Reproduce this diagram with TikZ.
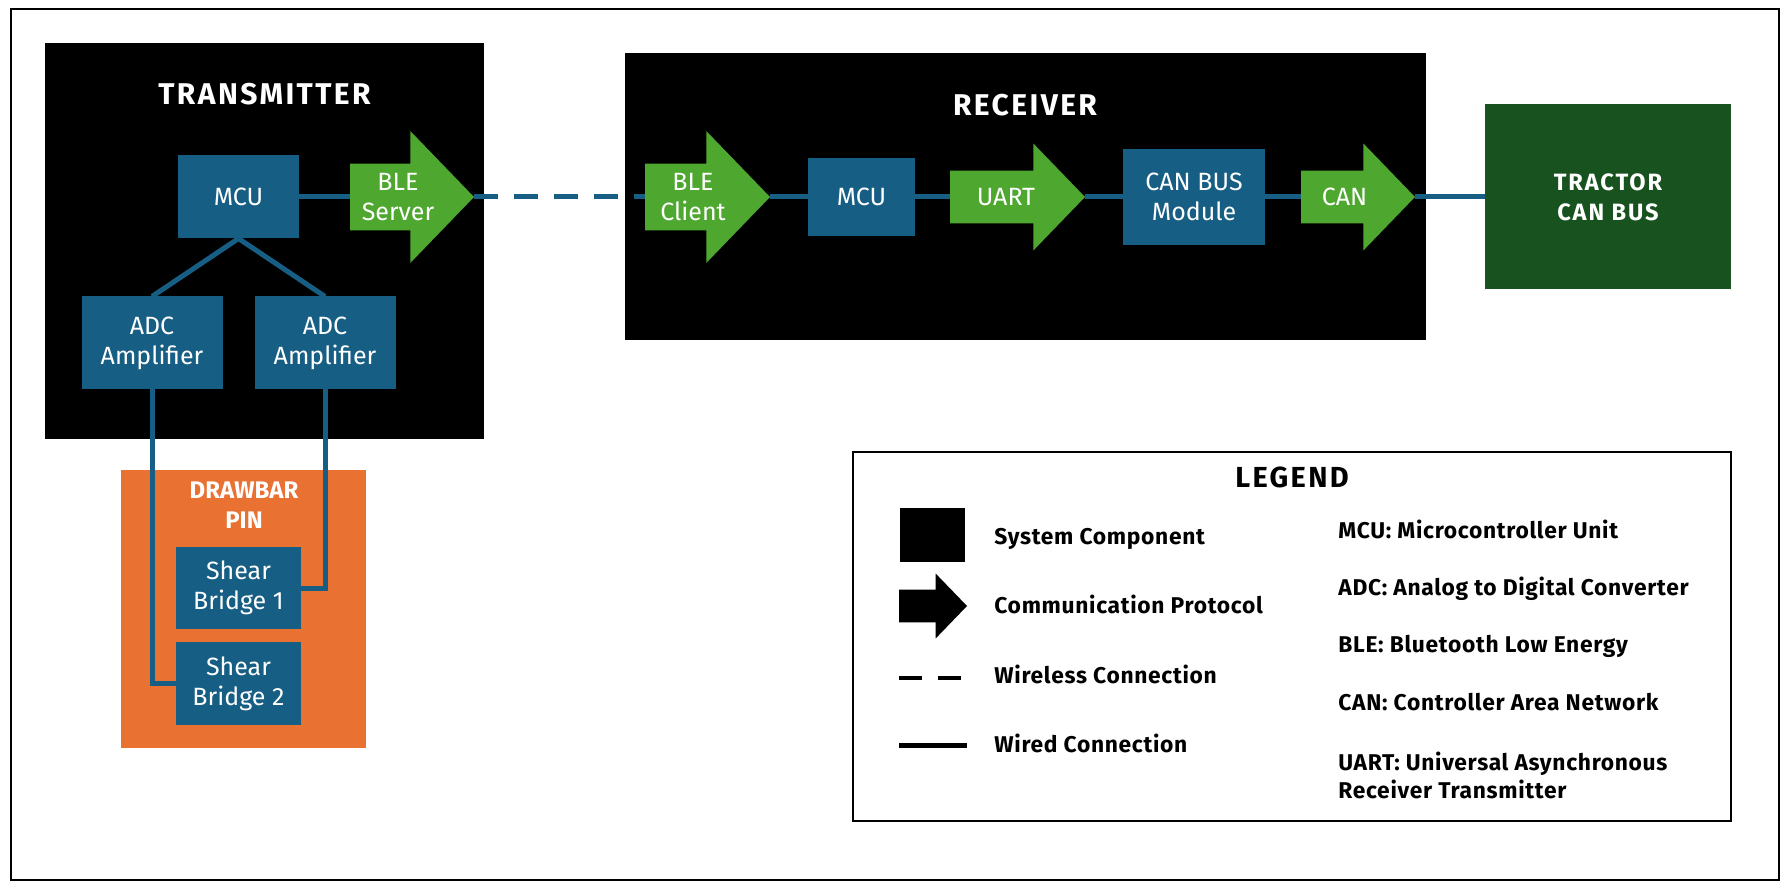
\documentclass[tikz,border=0pt]{standalone}
\usepackage{fontspec}
\setmainfont{Fira Sans}
\newfontfamily\titlefont{Fira Sans}[LetterSpace=8]
\newfontfamily\legendfont{Fira Sans}[LetterSpace=3]
\usepackage{xcolor}
\usepackage{tikz}
\usetikzlibrary{shapes,arrows,positioning,calc}

\definecolor{compblue}{HTML}{165E83}
\definecolor{protogreen}{HTML}{4EA72E}
\definecolor{pinorange}{HTML}{E97132}
\definecolor{tractorgreen}{HTML}{18521F}

\begin{document}
\begin{tikzpicture}[x=0.5pt, y=-0.5pt, node distance=19pt, >=latex']
    \tikzstyle{housing} = [fill=black, inner sep=0pt, outer sep=0pt]
    \tikzstyle{housetitle} = [text=white, align=center, inner sep=0pt, font=\titlefont\fontsize{15}{18}\selectfont\bfseries]
    \tikzstyle{comp} = [fill=compblue, text=white, align=center, inner sep=0pt, outer sep=0pt, font=\fontsize{12.5}{15}\selectfont]
    \tikzstyle{proto} = [single arrow, fill=protogreen, inner xsep=0pt, outer sep=0pt, single arrow tip angle=92]
    \tikzstyle{protolbl} = [text=white, align=center, inner sep=0pt, font=\fontsize{12.5}{15}\selectfont]
    \tikzstyle{wire} = [draw=compblue, line width=2.5pt]
    \tikzstyle{wireless} = [wire, dash pattern=on 12pt off 8pt]
    \tikzstyle{legtext} = [anchor=base west, inner sep=0pt, align=left, font=\legendfont\fontsize{11.4}{14}\selectfont\bfseries]

    \useasboundingbox (0,0) rectangle (1792,892);
    \node[draw, line width=0.75pt, inner sep=0pt, minimum width=884pt, minimum height=435.5pt] (frame) at (895,444.5) {};

    % transmitter side
    \node[housing, minimum width=219.5pt, minimum height=198pt] (tx) at (264.5,241) {};
    \node[housetitle] (txtitle) at (264.5,94) {TRANSMITTER};
    \node[comp, minimum width=60.5pt, minimum height=41.5pt] (txmcu) at (238.5,197) {MCU};
    \node[proto, inner ysep=16.5pt, minimum height=62pt, minimum width=65.5pt, single arrow head extend=16.25pt, right=25.5pt of txmcu, anchor=tail] (blesrv) {};
    \node[protolbl] (blesrvtxt) at ([xshift=24pt]blesrv.tail) {BLE\\Server};
    \node[comp, minimum width=70.5pt, minimum height=46.5pt] (adcl) at (152,343) {ADC\\Amplifier};
    \node[comp, minimum width=70.5pt, minimum height=46.5pt] (adcr) at (325,343) {ADC\\Amplifier};

    % drawbar pin
    \node[fill=pinorange, inner sep=0pt, minimum width=122.5pt, minimum height=139pt] (pin) at (243.5,609) {};
    \node[housetitle, font=\fontsize{12}{15}\selectfont\bfseries] (pintitle) at (244,505) {DRAWBAR\\PIN};
    \node[comp, minimum width=62.5pt, minimum height=41pt] (sbone) at (238.5,588) {Shear\\Bridge 1};
    \node[comp, minimum width=62.5pt, minimum height=41.5pt] (sbtwo) at (238.5,683.5) {Shear\\Bridge 2};

    % receiver side
    \node[housing, minimum width=400.5pt, minimum height=143.5pt] (rx) at (1025.5,196.5) {};
    \node[housetitle] (rxtitle) at (1025,105) {RECEIVER};
    \node[proto, inner ysep=16.5pt, minimum height=62.5pt, minimum width=65.5pt, single arrow head extend=16.25pt, anchor=tail] (blecli) at (645,197) {};
    \node[protolbl] (blecIitxt) at ([xshift=24pt]blecli.tail) {BLE\\Client};
    \node[comp, minimum width=53.5pt, minimum height=39pt, right=19pt of blecli.tip] (rxmcu) {MCU};
    \node[proto, inner ysep=13pt, minimum height=67.5pt, minimum width=53pt, single arrow head extend=13.5pt, right=17.5pt of rxmcu, anchor=tail] (uart) {};
    \node[protolbl] (uarttxt) at ([xshift=28pt]uart.tail) {UART};
    \node[comp, minimum width=71pt, minimum height=48pt, right=19pt of uart.tip] (canmod) {CAN BUS\\Module};
    \node[proto, inner ysep=13pt, minimum height=57pt, minimum width=53pt, single arrow head extend=13.5pt, right=18pt of canmod, anchor=tail] (can) {};
    \node[protolbl] (cantxt) at ([xshift=21.75pt]can.tail) {CAN};
    \node[fill=tractorgreen, text=white, align=center, inner sep=0pt, outer sep=0pt, font=\titlefont\fontsize{11.8}{15}\selectfont\bfseries, minimum width=123pt, minimum height=92.5pt, right=35pt of can.tip] (tractor) {TRACTOR\\CAN BUS};

    % wiring
    \draw[wire] (txmcu.east) -- (blesrv.tail);
    \draw[wire] (txmcu.south) -- (adcl.north);
    \draw[wire] (txmcu.south) -- (adcr.north);
    \draw[wire] (adcl.south) |- (sbtwo.west);
    \draw[wire] (adcr.south) |- (sbone.east);
    \draw[wireless] (blesrv.tip) -- (blecli.tail);
    \draw[wire] (blecli.tip) -- (rxmcu.west);
    \draw[wire] (rxmcu.east) -- (uart.tail);
    \draw[wire] (uart.tip) -- (canmod.west);
    \draw[wire] (canmod.east) -- (can.tail);
    \draw[wire] (can.tip) -- (tractor.west);

    % legend
    \node[draw, fill=white, line width=0.75pt, inner sep=0pt, minimum width=439pt, minimum height=184.5pt] (legend) at (1292,636.5) {};
    \node[inner sep=0pt, font=\titlefont\fontsize{14.5}{17}\selectfont\bfseries] (legtitle) at (1292,477) {LEGEND};
    \node[fill=black, inner sep=0pt, minimum width=32.5pt, minimum height=27pt] (legcomp) at (932.5,535) {};
    \node[legtext] (legcomptxt) at (994,544.5) {System Component};
    \node[proto, fill=black, inner ysep=8pt, minimum height=34pt, minimum width=32pt, single arrow head extend=8pt, anchor=tail] (legproto) at (899,606) {};
    \node[legtext] (legprototxt) at (994,613.5) {Communication Protocol};
    \coordinate (legwlstart) at (899,678);
    \coordinate (legwlend) at (961,678);
    \draw[line width=2pt, dash pattern=on 11.5pt off 8pt] (legwlstart) -- (legwlend);
    \node[legtext] (legwltxt) at (994,683.5) {Wireless Connection};
    \coordinate (legwdstart) at (899,745);
    \coordinate (legwdend) at (967,745);
    \draw[line width=2.5pt] (legwdstart) -- (legwdend);
    \node[legtext] (legwdtxt) at (994,752.5) {Wired Connection};

    \node[legtext] (legmcu) at (1338,538.5) {MCU: Microcontroller Unit};
    \node[legtext] (legadc) at (1338,595.5) {ADC: Analog to Digital Converter};
    \node[legtext] (legble) at (1338,652.5) {BLE: Bluetooth Low Energy};
    \node[legtext] (legcan) at (1338,710.5) {CAN: Controller Area Network};
    \node[legtext, anchor=west] (leguart) at (1338,775) {UART: Universal Asynchronous\\Receiver Transmitter};
\end{tikzpicture}
\end{document}
